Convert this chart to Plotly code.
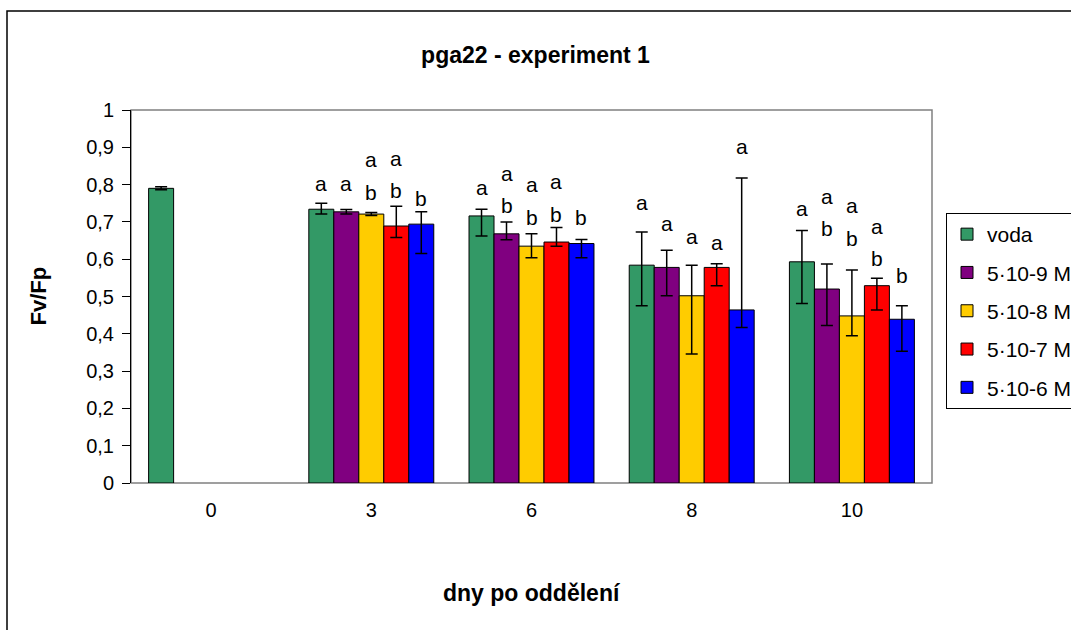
import plotly.graph_objects as go

# ---------------- data ----------------
categories = ["0", "3", "6", "8", "10"]
series_names = ["voda", "5·10-9 M", "5·10-8 M", "5·10-7 M", "5·10-6 M"]
series_colors = ["#339966", "#800080", "#FFCC00", "#FF0000", "#0000FF"]

voda = [0.790, 0.734, 0.716, 0.584, 0.593]
voda_plus = [0.004, 0.016, 0.018, 0.089, 0.084]
voda_minus = [0.004, 0.013, 0.054, 0.109, 0.112]

c9 = [None, 0.727, 0.668, 0.578, 0.520]
c9_plus = [0, 0.006, 0.032, 0.046, 0.067]
c9_minus = [0, 0.006, 0.016, 0.076, 0.098]

c8 = [None, 0.721, 0.635, 0.502, 0.448]
c8_plus = [0, 0.004, 0.033, 0.082, 0.123]
c8_minus = [0, 0.004, 0.031, 0.156, 0.053]

c7 = [None, 0.689, 0.646, 0.578, 0.529]
c7_plus = [0, 0.053, 0.039, 0.010, 0.020]
c7_minus = [0, 0.031, 0.011, 0.049, 0.065]

c6 = [None, 0.694, 0.642, 0.464, 0.439]
c6_plus = [0, 0.033, 0.011, 0.354, 0.036]
c6_minus = [0, 0.079, 0.038, 0.047, 0.086]

# significance letters (per series, per category) and the height of the top letter
letters_voda = ["", "a", "a", "a", "a"]
letters_c9 = ["", "a", "ab", "a", "ab"]
letters_c8 = ["", "ab", "ab", "a", "ab"]
letters_c7 = ["", "ab", "ab", "a", "ab"]
letters_c6 = ["", "b", "b", "a", "b"]

letter_top_voda = [None, 0.804, 0.791, 0.751, 0.735]
letter_top_c9 = [None, 0.804, 0.831, 0.697, 0.769]
letter_top_c8 = [None, 0.866, 0.799, 0.660, 0.743]
letter_top_c7 = [None, 0.871, 0.807, 0.646, 0.689]
letter_top_c6 = [None, 0.764, 0.713, 0.901, 0.555]

y_tickvals = [0, 0.1, 0.2, 0.3, 0.4, 0.5, 0.6, 0.7, 0.8, 0.9, 1]
y_ticktext = ["0", "0,1", "0,2", "0,3", "0,4", "0,5", "0,6", "0,7", "0,8", "0,9", "1"]

title_text = "pga22 - experiment 1"
x_title = "dny po oddělení"
y_title = "Fv/Fp"

# ---------------- figure ----------------
FONT = "Liberation Sans, Arial, sans-serif"
values = [voda, c9, c8, c7, c6]
plus = [voda_plus, c9_plus, c8_plus, c7_plus, c6_plus]
minus = [voda_minus, c9_minus, c8_minus, c7_minus, c6_minus]
letters = [letters_voda, letters_c9, letters_c8, letters_c7, letters_c6]
letter_tops = [letter_top_voda, letter_top_c9, letter_top_c8, letter_top_c7, letter_top_c6]

fig = go.Figure()
for i, name in enumerate(series_names):
    fig.add_trace(go.Bar(
        x=categories, y=values[i], name=name,
        legendgroup="g%d" % i,
        marker=dict(color=series_colors[i], line=dict(color="black", width=1)),
        error_y=dict(type="data", symmetric=False, array=plus[i], arrayminus=minus[i],
                     color="black", thickness=1.5, width=6),
    ))

L, R, T, B = 131, 139, 110, 147
W, H = 1071, 630
pw, ph = W - L - R, H - T - B
bar_px = pw / len(categories) * 0.78 / len(series_names)
LINE_GAP = 0.088

annotations = []
for i in range(len(series_names)):
    for j, cat in enumerate(categories):
        lab = letters[i][j]
        if not lab:
            continue
        y0 = letter_tops[i][j]
        ys = [y0] if len(lab) == 1 else [y0, y0 - LINE_GAP]
        for k, ch in enumerate(lab):
            annotations.append(dict(
                x=j, y=ys[k], xref="x", yref="y", text=ch, showarrow=False,
                xshift=(i - 2) * bar_px, yanchor="middle",
                font=dict(family=FONT, size=21, color="black"),
            ))

annotations.append(dict(x=0.5, y=(T + ph - 593) / ph, xref="paper", yref="paper",
                        text="<b>" + x_title + "</b>", showarrow=False, yanchor="middle",
                        font=dict(family=FONT, size=23, color="black")))
annotations.append(dict(x=(38 - L) / pw, y=0.5, xref="paper", yref="paper",
                        text="<b>" + y_title + "</b>", showarrow=False, textangle=-90,
                        xanchor="center", yanchor="middle",
                        font=dict(family=FONT, size=22, color="black")))

shapes = [
    dict(type="rect", xref="paper", yref="paper", x0=0, y0=0, x1=1, y1=1,
         line=dict(color="#808080", width=1.5), layer="below"),
    dict(type="rect", xref="paper", yref="paper",
         x0=(7 - L) / pw, y0=(T + ph - 640) / ph, x1=(1085 - L) / pw, y1=(T + ph - 11) / ph,
         line=dict(color="black", width=1.5), layer="below"),
]

fig.update_layout(
    width=W, height=H,
    margin=dict(l=L, r=R, t=T, b=B, autoexpand=False),
    paper_bgcolor="white", plot_bgcolor="white",
    barmode="group", bargap=0.22, bargroupgap=0,
    title=dict(text="<b>" + title_text + "</b>", x=0.5, xref="container", xanchor="center",
               y=1 - 55 / H, yref="container", yanchor="middle",
               font=dict(family=FONT, size=23, color="black")),
    font=dict(family=FONT, size=20, color="black"),
    xaxis=dict(type="category", range=[-0.5, 4.5], showgrid=False, ticks="", showline=False,
               ticklabelstandoff=13, tickfont=dict(family=FONT, size=20, color="black")),
    yaxis=dict(range=[0, 1], tickvals=y_tickvals, ticktext=y_ticktext, showgrid=False,
               showline=True, linecolor="black", linewidth=1, ticks="outside", ticklen=8,
               tickcolor="black", tickwidth=1, zeroline=False, ticklabelstandoff=4,
               tickfont=dict(family=FONT, size=20, color="black")),
    legend=dict(x=(946 - L) / pw, y=(T + ph - 213) / ph, xanchor="left", yanchor="top",
                bordercolor="black", borderwidth=1, bgcolor="white",
                font=dict(family=FONT, size=21, color="black"),
                tracegroupgap=8, traceorder="grouped", itemwidth=30),
    annotations=annotations,
    shapes=shapes,
    showlegend=True,
)

fig.write_html("out.html")
